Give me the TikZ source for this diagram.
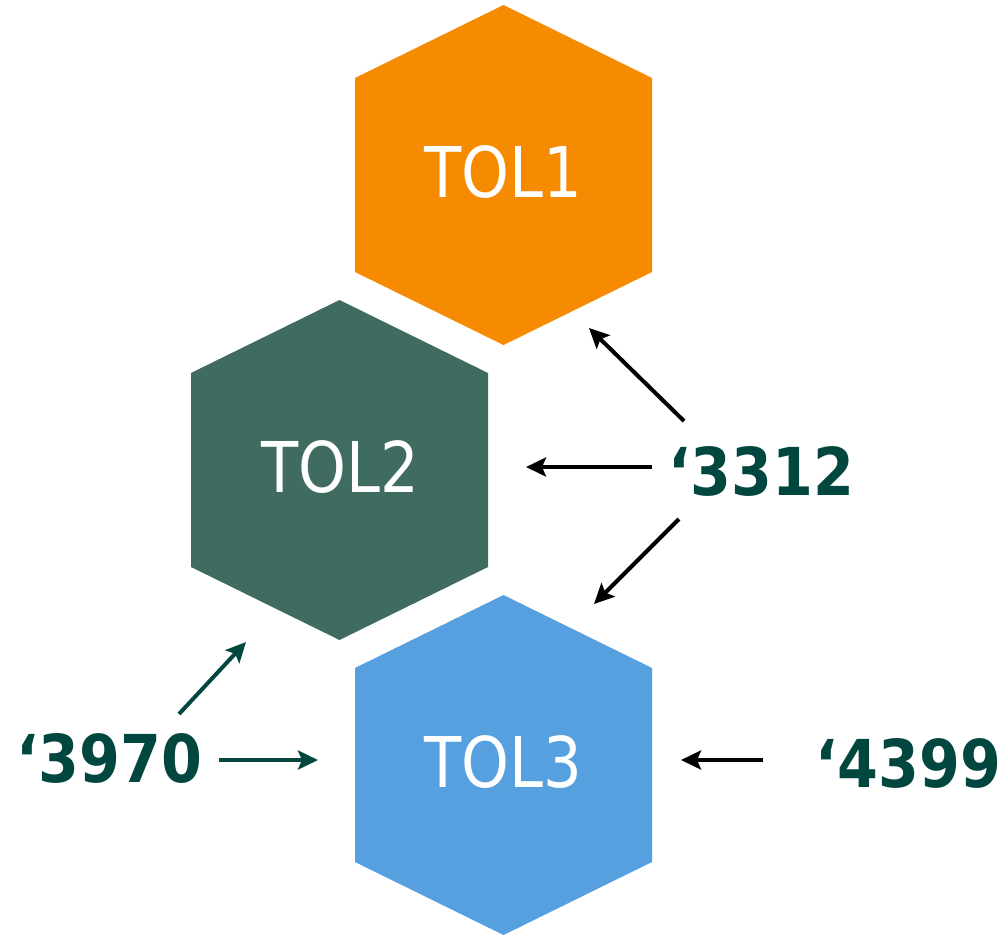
\documentclass[tikz,border=0pt]{standalone}
\usepackage{fontspec}
\usepackage{graphicx}
\setmainfont{DejaVu Sans}
\usetikzlibrary{arrows.meta}
\definecolor{orangehex}{HTML}{F68A00}
\definecolor{greenhex}{HTML}{3F6B60}
\definecolor{bluehex}{HTML}{56A0E0}
\definecolor{darkteal}{HTML}{02473F}
\tikzset{
  hexlabel/.style={anchor=base,inner sep=0pt,text=white,font=\fontsize{70}{80}\selectfont},
  numlabel/.style={anchor=base,inner sep=0pt,text=darkteal,font=\bfseries\fontsize{66}{74}\selectfont},
  blackarrow/.style={draw=black,line width=4pt,-{Stealth[length=20pt,width=19pt,inset=4pt]}},
  tealarrow/.style={draw=darkteal,line width=4pt,-{Stealth[length=20pt,width=19pt,inset=4pt]}},
}
\newcommand{\hexagonat}[3]{% center x, center y, colour
  \fill[#3] (#1,#2-170) -- (#1+148.5,#2-97) -- (#1+148.5,#2+97) -- (#1,#2+170)
     -- (#1-148.5,#2+97) -- (#1-148.5,#2-97) -- cycle;}
\begin{document}
\begin{tikzpicture}[x=1pt,y=-1pt]
\useasboundingbox (0,0) rectangle (1001,935);
% hexagons
\hexagonat{503.5}{175}{orangehex}
\hexagonat{339.5}{470}{greenhex}
\hexagonat{503.5}{765}{bluehex}
\node[hexlabel] (tol1) at (503,197) {\scalebox{0.87}[1]{TOL1}};
\node[hexlabel] (tol2) at (340,492) {\scalebox{0.87}[1]{TOL2}};
\node[hexlabel] (tol3) at (503,787) {\scalebox{0.87}[1]{TOL3}};
% labels
\node[numlabel] (l3312) at (761,495) {\scalebox{0.89}[1]{‘3312}};
\node[numlabel] (l3970) at (109,782) {\scalebox{0.89}[1]{‘3970}};
\node[numlabel] (l4399) at (908,787) {\scalebox{0.89}[1]{‘4399}};
% arrow ends
\coordinate (a1s) at (684,421); \coordinate (a1e) at (589,328);
\coordinate (a2s) at (652,467); \coordinate (a2e) at (526,467);
\coordinate (a3s) at (679,519); \coordinate (a3e) at (594,604);
\coordinate (b1s) at (179,714); \coordinate (b1e) at (246,642);
\coordinate (b2s) at (219,760); \coordinate (b2e) at (318,760);
\coordinate (c1s) at (763,760); \coordinate (c1e) at (681,760);
\draw[blackarrow] (a1s) -- (a1e);
\draw[blackarrow] (a2s) -- (a2e);
\draw[blackarrow] (a3s) -- (a3e);
\draw[tealarrow] (b1s) -- (b1e);
\draw[tealarrow] (b2s) -- (b2e);
\draw[blackarrow] (c1s) -- (c1e);
\end{tikzpicture}
\end{document}
